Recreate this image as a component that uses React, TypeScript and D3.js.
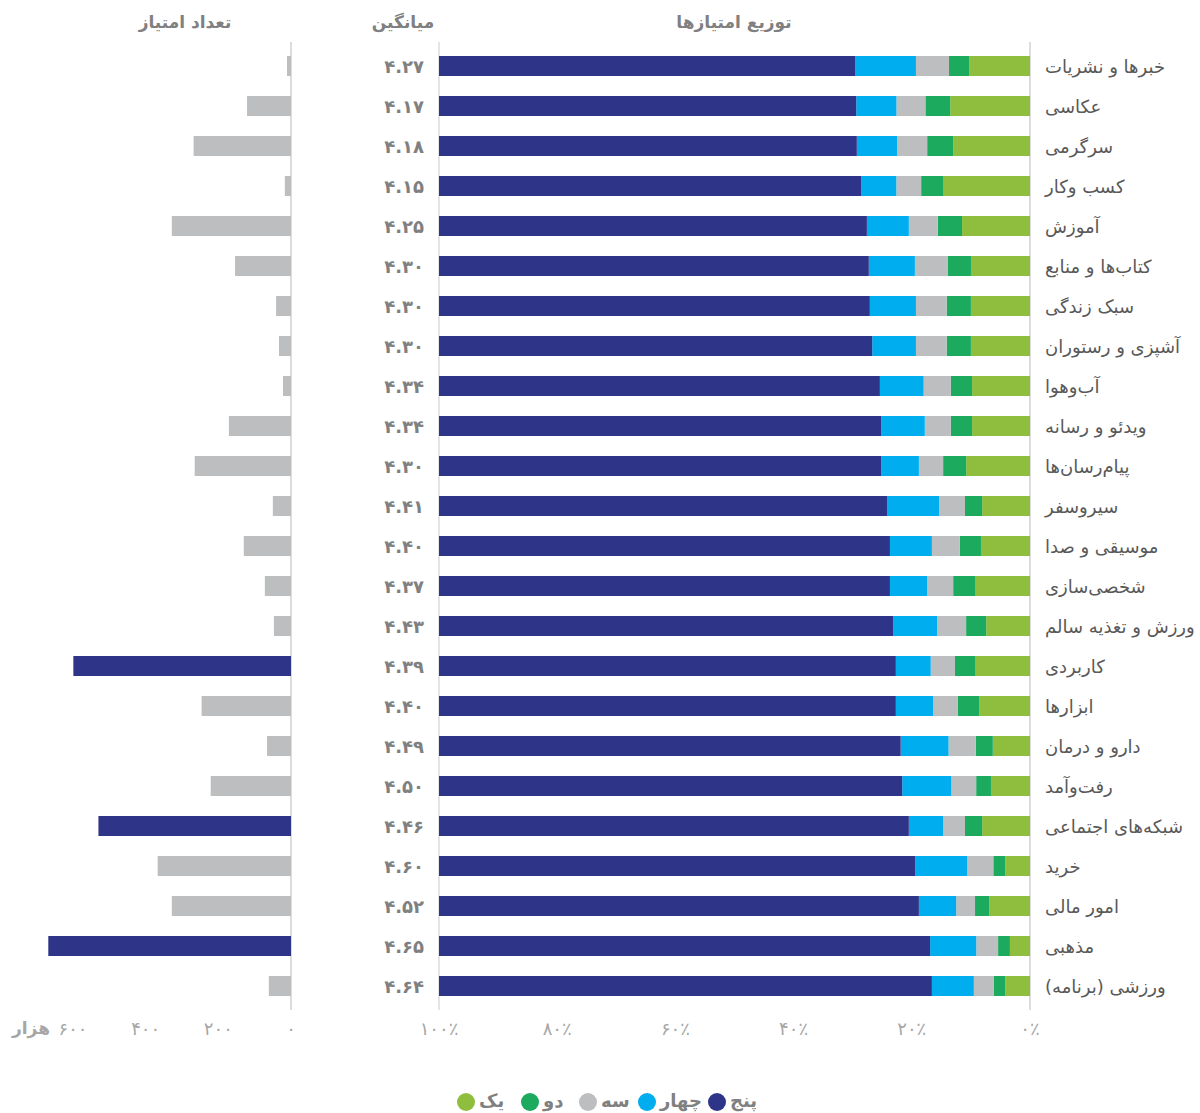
import * as d3 from "d3";

// categories, top to bottom
const categories = [
  "خبرها و نشریات", "عکاسی", "سرگرمی", "کسب وکار", "آموزش", "کتاب‌ها و منابع",
  "سبک زندگی", "آشپزی و رستوران", "آب‌وهوا", "ویدئو و رسانه", "پیام‌رسان‌ها", "سیروسفر",
  "موسیقی و صدا", "شخصی‌سازی", "ورزش و تغذیه سالم", "کاربردی", "ابزارها", "دارو و درمان",
  "رفت‌وآمد", "شبکه‌های اجتماعی", "خرید", "امور مالی", "مذهبی", "ورزشی (برنامه)",
];

// rating shares (%) per star
const one = [10.3, 13.5, 13.0, 14.7, 11.5, 10.0, 10.0, 10.0, 9.8, 9.8, 10.8, 8.1, 8.3, 9.3, 7.4, 9.3, 8.6, 6.3, 6.6, 8.1, 4.2, 6.9, 3.4, 4.2];
const two = [3.4, 4.2, 4.4, 3.7, 4.1, 3.9, 4.1, 4.1, 3.6, 3.6, 3.9, 2.9, 3.6, 3.7, 3.4, 3.4, 3.6, 2.9, 2.5, 2.9, 2.0, 2.4, 2.0, 1.9];
const three = [5.6, 4.9, 5.1, 4.2, 4.9, 5.6, 5.2, 5.2, 4.6, 4.4, 4.1, 4.4, 4.7, 4.4, 4.9, 4.1, 4.2, 4.6, 4.2, 3.7, 4.4, 3.2, 3.7, 3.4];
const four = [10.3, 6.8, 6.8, 5.9, 7.1, 7.8, 7.8, 7.4, 7.4, 7.4, 6.4, 8.8, 7.1, 6.3, 7.4, 5.9, 6.3, 8.1, 8.3, 5.8, 8.8, 6.3, 7.8, 7.1];
const five = [70.4, 70.6, 70.7, 71.4, 72.4, 72.8, 72.9, 73.3, 74.6, 74.8, 74.8, 75.8, 76.3, 76.3, 76.8, 77.3, 77.3, 78.2, 78.3, 79.5, 80.5, 81.2, 83.1, 83.4];

const averages = [4.27, 4.17, 4.18, 4.15, 4.25, 4.3, 4.3, 4.3, 4.34, 4.34, 4.3, 4.41, 4.4, 4.37, 4.43, 4.39, 4.4, 4.49, 4.5, 4.46, 4.6, 4.52, 4.65, 4.64];

// number of ratings, thousands
const counts = [11, 121, 268, 17, 328, 154, 41, 33, 22, 171, 265, 50, 130, 72, 47, 599, 246, 66, 221, 530, 367, 328, 668, 61];

const starKeys = ["one", "two", "three", "four", "five"];
const starNames = ["یک", "دو", "سه", "چهار", "پنج"];
const starColors = ["#8fbe3f", "#1baa5e", "#bcbec0", "#00aeef", "#2e3589"];

const pctTicks = [0, 20, 40, 60, 80, 100];
const countTicks = [0, 200, 400, 600];

const FONT = "'DejaVu Sans', sans-serif";
const fa = (s: string) => s.replace(/\d/g, (d) => "۰۱۲۳۴۵۶۷۸۹"[+d]);

export default function App() {
  const width = 1200;
  const height = 1113;

  const rows = categories.map((c, i) => ({
    name: c, one: one[i], two: two[i], three: three[i], four: four[i], five: five[i],
  }));
  const series = d3.stack().keys(starKeys).offset(d3.stackOffsetExpand)(rows as any);

  const y = d3.scaleBand().domain(categories).range([46, 1006]).paddingInner(0.5).paddingOuter(0.25);
  const x = d3.scaleLinear().domain([0, 1]).range([1030, 439]);
  const xc = d3.scaleLinear().domain([0, 600]).range([291, 73]);

  const bw = y.bandwidth();
  const gray = "#808080";

  return (
    <div style={{ position: "absolute", left: 0, top: 0 }}>
      <svg width={width} height={height} style={{ display: "block", background: "#fff" }} fontFamily={FONT}>
        {/* headers */}
        <g fill={gray} fontSize={17} fontWeight="bold" textAnchor="middle">
          <text x={734} y={22} dominantBaseline="central" direction="rtl">توزیع امتیازها</text>
          <text x={403} y={22} dominantBaseline="central" direction="rtl">میانگین</text>
          <text x={185} y={22} dominantBaseline="central" direction="rtl">تعداد امتیاز</text>
        </g>

        {/* grid lines */}
        <line x1={x(0)} x2={x(0)} y1={42} y2={1010} stroke="#dcdcdc" strokeWidth={2} />
        <line x1={x(1)} x2={x(1)} y1={42} y2={1010} stroke="#dcdcdc" strokeWidth={1.5} />
        <line x1={xc(0)} x2={xc(0)} y1={42} y2={1010} stroke="#dcdcdc" strokeWidth={2} />

        {/* stacked distribution */}
        {series.map((s, k) => (
          <g key={s.key} fill={starColors[k]}>
            {s.map((d: any, i) => (
              <rect key={i} x={x(d[1])} y={y(categories[i])} width={x(d[0]) - x(d[1])} height={bw} />
            ))}
          </g>
        ))}

        {/* rating counts */}
        {counts.map((v, i) => (
          <rect key={i} x={xc(v)} y={y(categories[i])} width={xc(0) - xc(v)} height={bw}
            fill={v > 500 ? "#2e3589" : "#bcbec0"} />
        ))}

        {/* category labels */}
        {categories.map((c, i) => (
          <text key={c} x={1045} y={(y(c) as number) + bw / 2} dominantBaseline="central"
            direction="rtl" textAnchor="end" fontSize={18} fill="#595959">{c}</text>
        ))}

        {/* averages */}
        {averages.map((a, i) => (
          <text key={i} x={424} y={(y(categories[i]) as number) + bw / 2} dominantBaseline="central"
            textAnchor="end" fontSize={18} fontWeight="bold" fill={gray}>{fa(a.toFixed(2))}</text>
        ))}

        {/* percent axis */}
        {pctTicks.map((t) => (
          <text key={t} x={x(t / 100)} y={1028} dominantBaseline="central" textAnchor="middle"
            fontSize={18} fill="#a6a6a6">{fa(String(t)) + "٪"}</text>
        ))}

        {/* count axis */}
        {countTicks.map((t) => (
          <text key={t} x={xc(t)} y={1028} dominantBaseline="central" textAnchor="middle"
            fontSize={18} fill="#a6a6a6">{fa(String(t))}</text>
        ))}
        <text x={31} y={1028} dominantBaseline="central" textAnchor="middle" fontSize={17}
          fontWeight="bold" fill="#a6a6a6" direction="rtl">هزار</text>

        {/* legend */}
        {starNames.map((n, k) => {
          const cx = [466, 530, 588, 647, 717][k];
          return (
            <g key={n}>
              <circle cx={cx} cy={1102} r={9} fill={starColors[k]} />
              <text x={cx + 13} y={1100} dominantBaseline="central" direction="rtl" textAnchor="end"
                fontSize={18} fontWeight="bold" fill={gray}>{n}</text>
            </g>
          );
        })}
      </svg>
    </div>
  );
}
